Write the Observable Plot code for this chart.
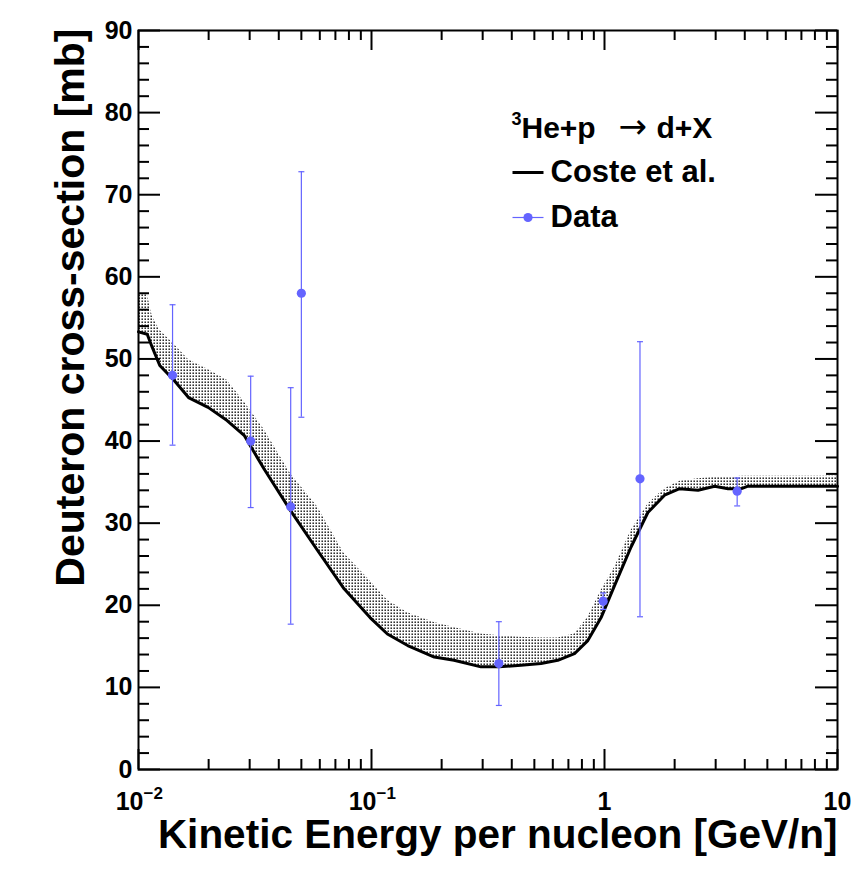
<!DOCTYPE html>
<html>
<head>
<meta charset="utf-8">
<script src="https://cdn.jsdelivr.net/npm/d3@7"></script>
<script src="https://cdn.jsdelivr.net/npm/@observablehq/plot@0.6"></script>
<style>
  html, body { margin: 0; padding: 0; background: white; }
  svg { display: block; }
</style>
</head>
<body>
<div id="chart"></div>
<script>
// ---- Coste et al. curve (lower edge) ----
const curveE = [0.0100, 0.0109, 0.01146, 0.01234, 0.0142, 0.0164, 0.0199, 0.0240, 0.0284, 0.0346, 0.045, 0.0586, 0.0763, 0.0986, 0.117, 0.143, 0.186, 0.226, 0.295, 0.353, 0.438, 0.534, 0.630, 0.743, 0.848, 0.967, 1.104, 1.30, 1.535, 1.81, 2.10, 2.52, 2.97, 3.39, 3.87, 4.13, 10];
const curveV = [53.3, 53.0, 51.4, 49.2, 47.4, 45.3, 44.1, 42.5, 40.7, 36.6, 31.5, 26.7, 22.0, 18.5, 16.5, 15.1, 13.7, 13.3, 12.5, 12.5, 12.7, 12.9, 13.3, 14.1, 15.7, 18.5, 22.4, 27.1, 31.3, 33.4, 34.2, 34.0, 34.5, 34.2, 34.2, 34.5, 34.5];
// ---- upper edge of uncertainty band ----
const bandUpper = [58.0, 57.9, 55.2, 53.5, 51.8, 49.9, 48.7, 47.4, 44.8, 41.4, 36.0, 32.0, 26.3, 23.0, 20.6, 19.1, 17.9, 17.3, 16.5, 16.3, 16.1, 16.0, 16.0, 16.5, 18.5, 21.8, 24.6, 29.1, 32.3, 34.2, 35.1, 35.4, 35.6, 35.6, 35.7, 35.7, 35.7];

// ---- Data points ----
const dataE  = [0.014, 0.0303, 0.045, 0.050, 0.352, 0.987, 1.42, 3.71];
const dataV  = [48.0, 40.0, 32.0, 58.0, 12.9, 20.5, 35.4, 33.9];
const dataHi = [56.6, 47.9, 46.5, 72.8, 18.0, 21.5, 52.1, 35.5];
const dataLo = [39.5, 31.9, 17.7, 42.9, 7.8, 19.5, 18.6, 32.1];

// ---- ticks ----
const yMajor = [0, 10, 20, 30, 40, 50, 60, 70, 80, 90];
const yMinor = d3.range(0, 91, 2).filter(v => v % 10 !== 0);
const xMajor = [0.01, 0.1, 1, 10];
const xBase  = ["10", "10", "1", "10"];
const xExp   = ["\u22122", "\u22121", "", ""];
const xMinor = [0.01, 0.1, 1].flatMap(d => [2,3,4,5,6,7,8,9].map(k => +(d * k).toPrecision(3)));

const curve = curveE.map((e, i) => ({e, v: curveV[i], hi: bandUpper[i]}));
const data = dataE.map((e, i) => ({e, v: dataV[i], hi: dataHi[i], lo: dataLo[i]}));
const xLab = xMajor.map((v, i) => ({v, b: xBase[i], s: xExp[i]}));

const W = 868, H = 876, mL = 138, mR = 31, mT = 30, mB = 107;
const fw = W - mL - mR, fh = H - mT - mB;
const blue = "#6464ff";
const hline = { draw(ctx, size) { const w = Math.sqrt(size / Math.PI); ctx.moveTo(-w, 0); ctx.lineTo(w, 0); } };

const bold = {fontWeight: "bold", fill: "black"};

const plot = Plot.plot({
  width: W, height: H,
  marginLeft: mL, marginRight: mR, marginTop: mT, marginBottom: mB,
  x: {type: "log", domain: [0.01, 10], axis: null},
  y: {domain: [0, 90], axis: null},
  style: {fontFamily: "'Liberation Sans', Arial, Helvetica, sans-serif", background: "white", overflow: "visible"},
  marks: [
    // band
    Plot.areaY(curve, {x: "e", y1: "v", y2: "hi", fill: "url(#dots)", curve: "linear"}),
    // curve
    Plot.line(curve, {x: "e", y: "v", stroke: "black", strokeWidth: 3, strokeLinejoin: "round"}),
    // data error bars
    Plot.ruleX(data, {x: "e", y1: "lo", y2: "hi", stroke: blue, strokeWidth: 1.2}),
    Plot.dot(data, {x: "e", y: "hi", symbol: hline, r: 3, stroke: blue, strokeWidth: 1.2, fill: "none"}),
    Plot.dot(data, {x: "e", y: "lo", symbol: hline, r: 3, stroke: blue, strokeWidth: 1.2, fill: "none"}),
    Plot.dot(data, {x: "e", y: "v", r: 4.6, fill: blue, stroke: "none"}),
    // frame
    Plot.frame({stroke: "black", strokeWidth: 2}),
    // y ticks left & right
    Plot.tickY(yMajor, {y: d => d, insetRight: fw - 22, stroke: "black", strokeWidth: 2}),
    Plot.tickY(yMinor, {y: d => d, insetRight: fw - 11, stroke: "black", strokeWidth: 2}),
    Plot.tickY(yMajor, {y: d => d, insetLeft: fw - 22, stroke: "black", strokeWidth: 2}),
    Plot.tickY(yMinor, {y: d => d, insetLeft: fw - 11, stroke: "black", strokeWidth: 2}),
    // x ticks bottom & top
    Plot.tickX(xMajor, {x: d => d, insetTop: fh - 20, stroke: "black", strokeWidth: 2}),
    Plot.tickX(xMinor, {x: d => d, insetTop: fh - 10, stroke: "black", strokeWidth: 2}),
    Plot.tickX(xMajor, {x: d => d, insetBottom: fh - 20, stroke: "black", strokeWidth: 2}),
    Plot.tickX(xMinor, {x: d => d, insetBottom: fh - 10, stroke: "black", strokeWidth: 2}),
    // y tick labels
    Plot.text(yMajor, {y: d => d, text: d => String(d), frameAnchor: "left", dx: -6, textAnchor: "end", lineAnchor: "middle", fontSize: 25, ...bold}),
    // x tick labels: base with exponent
    Plot.text(xLab.filter(d => d.s), {x: "v", text: "b", frameAnchor: "bottom", dy: 32, dx: 5, lineAnchor: "middle", textAnchor: "end", fontSize: 25, ...bold}),
    Plot.text(xLab.filter(d => d.s), {x: "v", text: "s", frameAnchor: "bottom", dy: 24, dx: 5, lineAnchor: "middle", textAnchor: "start", fontSize: 17, ...bold}),
    // x tick labels without exponent
    Plot.text(xLab.filter(d => !d.s), {x: "v", text: "b", frameAnchor: "bottom", dy: 32, lineAnchor: "middle", textAnchor: "middle", fontSize: 25, ...bold}),
    // axis titles
    Plot.text(["Kinetic Energy per nucleon [GeV/n]"], {text: d => d, frameAnchor: "bottom-right", dx: 0, dy: 78, textAnchor: "end", lineAnchor: "bottom", fontSize: 40.5, ...bold}),
    Plot.text(["Deuteron cross-section [mb]"], {text: d => d, frameAnchor: "top-left", dx: -55, dy: -2, rotate: -90, textAnchor: "end", lineAnchor: "bottom", fontSize: 41, ...bold}),
    // legend
    Plot.text(["3"], {text: d => d, frameAnchor: "top-left", dx: 511 - mL, dy: 119 - mT, textAnchor: "start", lineAnchor: "middle", fontSize: 18, ...bold}),
    Plot.text(["He+p"], {text: d => d, frameAnchor: "top-left", dx: 521 - mL, dy: 128 - mT, textAnchor: "start", lineAnchor: "middle", fontSize: 30, ...bold}),
    Plot.text(["\u2192"], {text: d => d, frameAnchor: "top-left", dx: 618 - mL, dy: 127 - mT, textAnchor: "start", lineAnchor: "middle", fontSize: 34, fontFamily: "'DejaVu Sans', sans-serif", fill: "black"}),
    Plot.text(["d+X"], {text: d => d, frameAnchor: "top-left", dx: 656 - mL, dy: 128 - mT, textAnchor: "start", lineAnchor: "middle", fontSize: 30, ...bold}),
    Plot.dot(["coste"], {frameAnchor: "top-left", dx: 527.5 - mL, dy: 172 - mT, symbol: hline, r: 15.5, stroke: "black", strokeWidth: 3, fill: "none"}),
    Plot.text(["Coste et al."], {text: d => d, frameAnchor: "top-left", dx: 550 - mL, dy: 172 - mT, textAnchor: "start", lineAnchor: "middle", fontSize: 31, ...bold}),
    Plot.dot(["data"], {frameAnchor: "top-left", dx: 527.5 - mL, dy: 217 - mT, symbol: hline, r: 15.5, stroke: blue, strokeWidth: 1.2, fill: "none"}),
    Plot.dot(["data"], {frameAnchor: "top-left", dx: 527.5 - mL, dy: 217 - mT, r: 4.6, fill: blue, stroke: "none"}),
    Plot.text(["Data"], {text: d => d, frameAnchor: "top-left", dx: 550 - mL, dy: 217 - mT, textAnchor: "start", lineAnchor: "middle", fontSize: 31, ...bold})
  ]
});

// dotted fill pattern for the band
const ns = "http://www.w3.org/2000/svg";
const defs = document.createElementNS(ns, "defs");
defs.innerHTML = '<pattern id="dots" width="3" height="3" patternUnits="userSpaceOnUse"><rect x="0.5" y="0.5" width="1.4" height="1.4" fill="black"/></pattern>';
plot.insertBefore(defs, plot.firstChild);
document.getElementById("chart").appendChild(plot);
</script>
</body>
</html>
